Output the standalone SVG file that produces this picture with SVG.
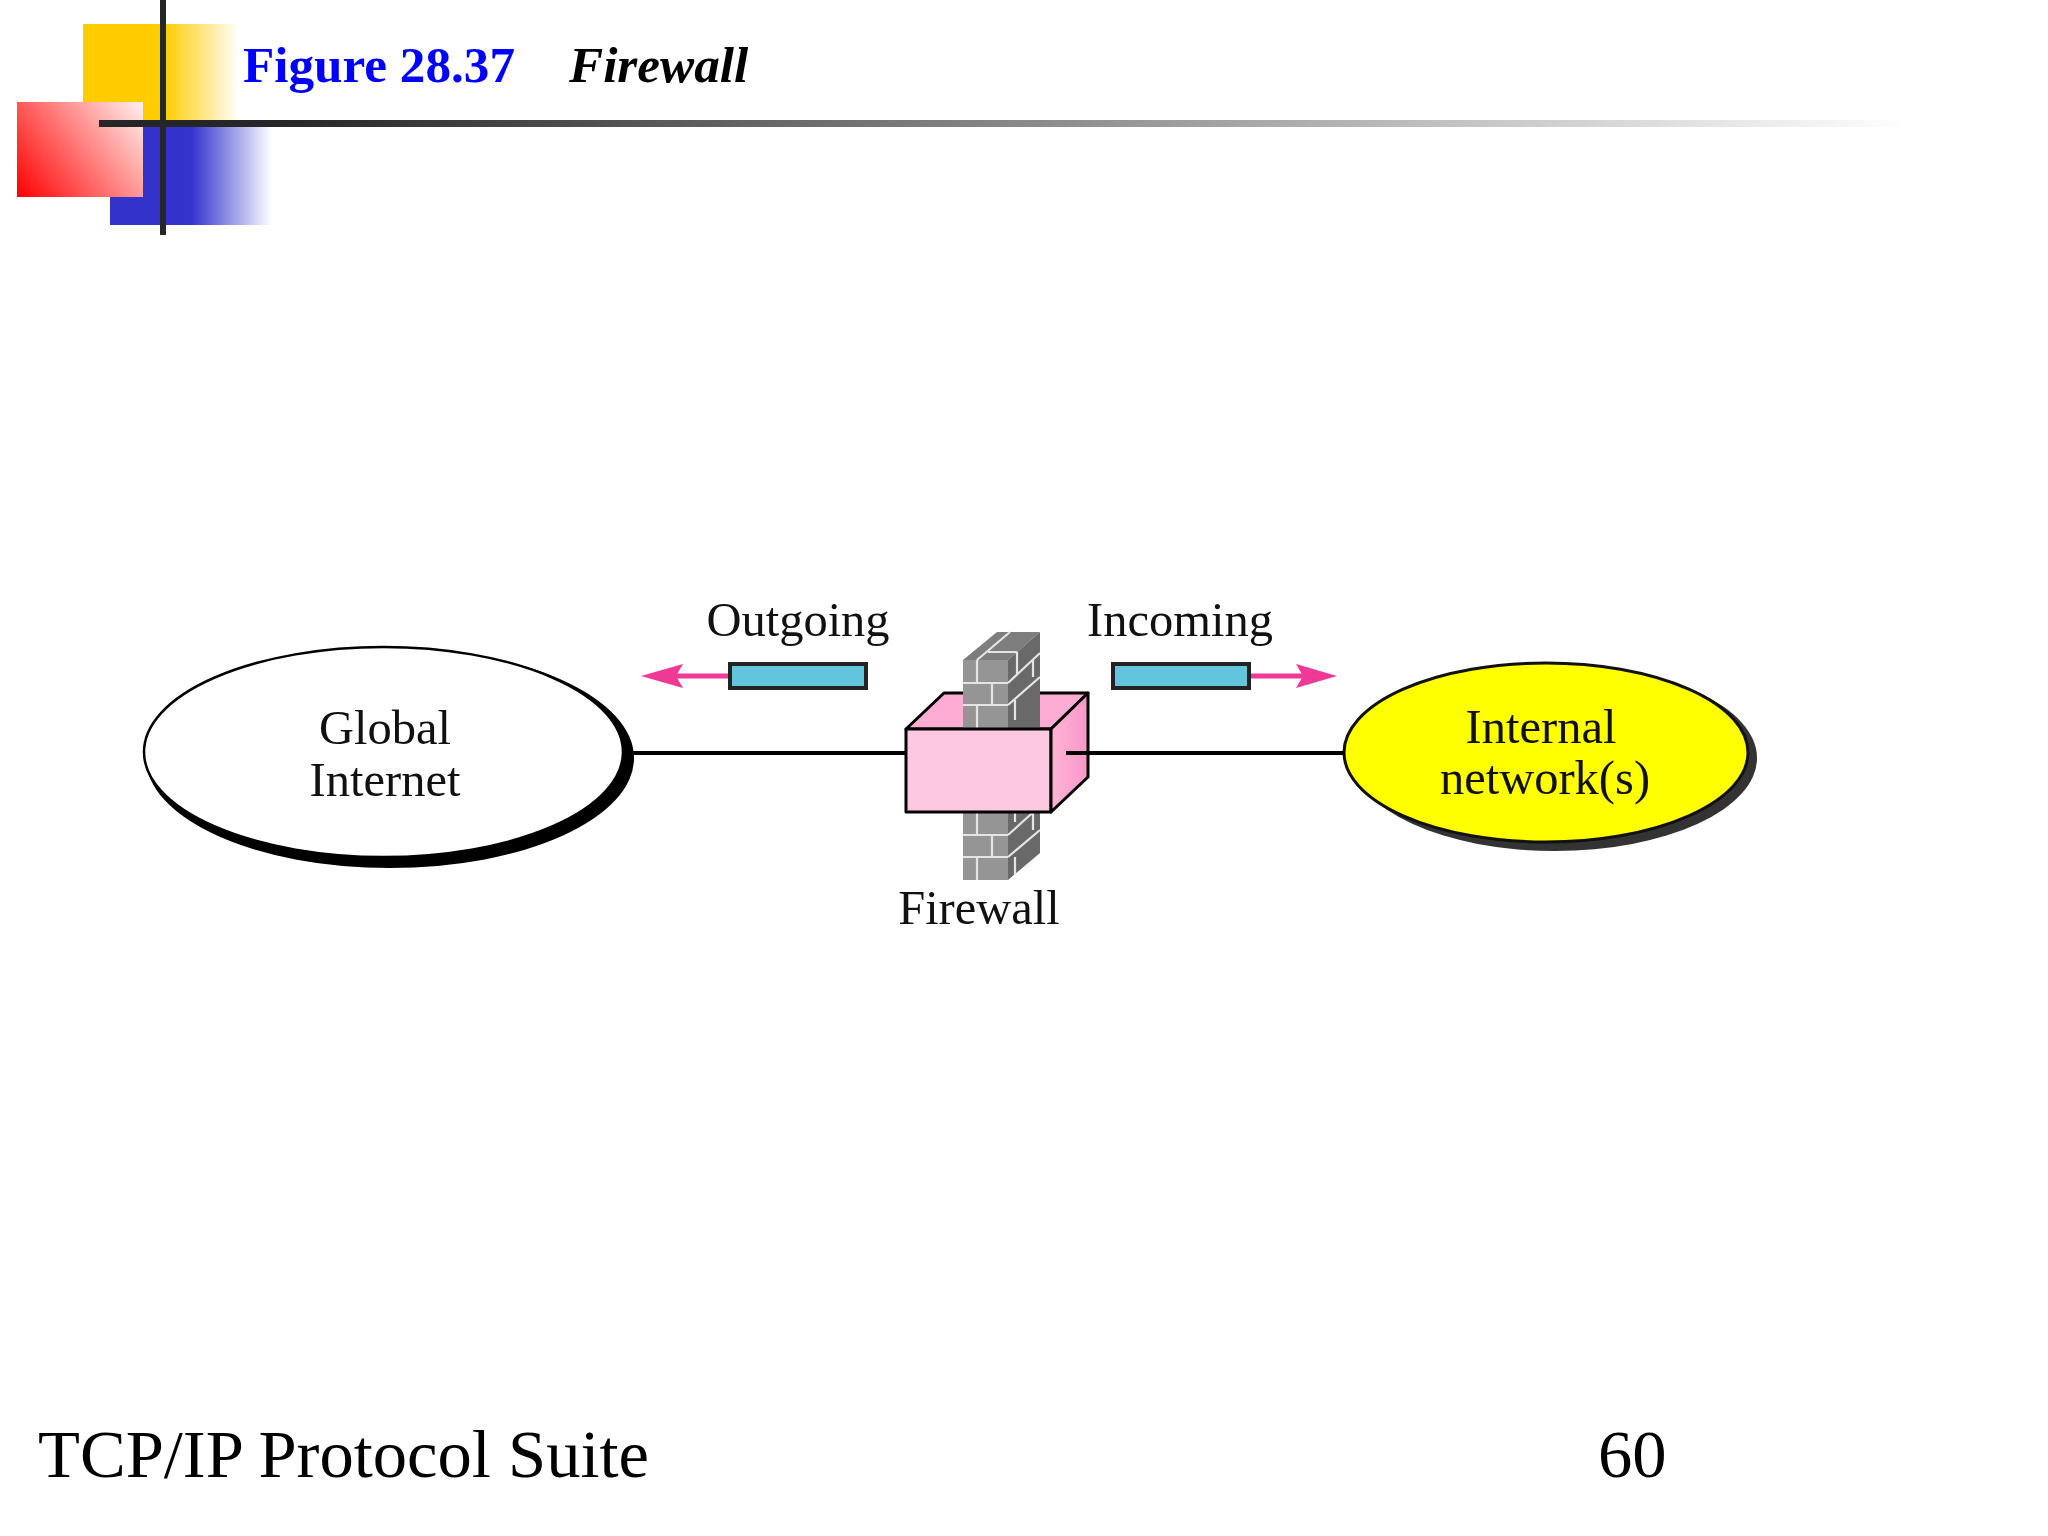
<svg xmlns="http://www.w3.org/2000/svg" width="2048" height="1536" viewBox="0 0 2048 1536">
<style>
text{font-family:"Liberation Serif","Times New Roman",serif;fill:#000}
.fig{font-size:48.500px;fill:#111}
.title{font-size:51.200px;font-weight:bold}
.foot{font-size:68.600px}
.wire{stroke:#000;stroke-width:4;fill:none}
.edge{stroke:#000;stroke-width:3;stroke-linejoin:round}
.mortar{stroke:#e4e4e4;stroke-width:2.200;fill:none}
.packet{fill:#62c5dd;stroke:#222;stroke-width:4}
.flow{stroke:#ee3a96;stroke-width:5;fill:none}
.head{fill:#ee3a96}
</style>
<defs>
<linearGradient id="gy" x1="83" x2="240" y1="0" y2="0" gradientUnits="userSpaceOnUse"><stop offset="0.52" stop-color="#ffcc00"/><stop offset="1" stop-color="#ffcc00" stop-opacity="0"/></linearGradient>
<linearGradient id="gb" x1="110" x2="272" y1="0" y2="0" gradientUnits="userSpaceOnUse"><stop offset="0.5" stop-color="#3333cc"/><stop offset="1" stop-color="#3333cc" stop-opacity="0"/></linearGradient>
<linearGradient id="gr" x1="17" y1="197" x2="143" y2="102" gradientUnits="userSpaceOnUse"><stop offset="0" stop-color="#ff0000"/><stop offset="1" stop-color="#fff2f0"/></linearGradient>
<linearGradient id="gl" x1="99" x2="1910" y1="0" y2="0" gradientUnits="userSpaceOnUse"><stop offset="0.1" stop-color="#262626"/><stop offset="1" stop-color="#262626" stop-opacity="0"/></linearGradient>
<linearGradient id="gs" x1="1051" x2="1088" y1="0" y2="0" gradientUnits="userSpaceOnUse"><stop offset="0" stop-color="#fdb4d6"/><stop offset="1" stop-color="#fb97c8"/></linearGradient>
</defs>
<rect width="2048" height="1536" fill="#fff"/>
<g id="decoration">
<rect x="83" y="24" width="157" height="98" fill="url(#gy)"/>
<rect x="110" y="125" width="162" height="100" fill="url(#gb)"/>
<rect x="17" y="102" width="126" height="95" fill="url(#gr)"/>
<rect x="99" y="120" width="1811" height="7" fill="url(#gl)"/>
<rect x="160" y="0" width="6" height="235" fill="#262626"/>
</g>
<g id="title">
<text class="title" x="243" y="82" style="fill:#0000ff">Figure 28.37</text>
<text class="title" x="569" y="82" font-style="italic">Firewall</text>
</g>
<g id="connectors">
<path class="wire" d="M632 753H906"/>
<path class="flow" d="M729 676H670"/>
<path class="head" d="M641 676L683 664L676 676L683 688Z"/>
<path class="flow" d="M1250 676H1310"/>
<path class="head" d="M1337 676L1296 664L1303 676L1296 688Z"/>
</g>
<g id="global-internet">
<ellipse cx="390" cy="758" rx="244" ry="110" fill="#000"/>
<ellipse cx="383.500" cy="752" rx="239.500" ry="105" fill="#fff" stroke="#000" stroke-width="2.500"/>
<text class="fig" x="385" y="744" text-anchor="middle">Global</text>
<text class="fig" x="385" y="796" text-anchor="middle">Internet</text>
</g>
<g id="internal-network">
<ellipse cx="1555" cy="758" rx="202" ry="93" fill="#333"/>
<ellipse cx="1546" cy="752.500" rx="202" ry="89.500" fill="#ffff00" stroke="#111" stroke-width="3"/>
<text class="fig" x="1541" y="743" text-anchor="middle">Internal</text>
<text class="fig" x="1545" y="794" text-anchor="middle">network(s)</text>
</g>
<g id="firewall">
<polygon class="edge" points="906,729 944,693 1088,693 1051,729" fill="#fdadd3"/>
<polygon points="963,660 997,632 1040,632 1008,660" fill="#7e7e7e"/>
<polygon points="1008,660 1040,632 1040,853 1008,880" fill="#696969"/>
<rect x="963" y="660" width="45" height="220" fill="#959595"/>
<path class="mortar" d="M977 660V682M963 683H1008M992 683V705M963 705H1008M977 705V729M977 812V834M963 835H1008M992 835V857M963 857H1008M977 857V880"/>
<path class="mortar" d="M1008 683L1040 653M1008 705L1040 677M1017 652V675M1033 660V677M1015 700V720M1008 835L1040 806M1008 857L1040 830M1015 857V875M1015 812V822M1033 812V830"/>
<path class="mortar" d="M977 660L1010 632M988 652H1017"/>
<rect class="edge" x="906" y="729" width="145" height="83" fill="#fdc8e2"/>
<polygon class="edge" points="1051,729 1088,693 1088,777 1051,812" fill="url(#gs)"/>
<path class="wire" d="M1066 753H1345"/>
<text class="fig" x="979" y="924" text-anchor="middle">Firewall</text>
</g>
<g id="outgoing">
<rect class="packet" x="730" y="664" width="136" height="24"/>
<text class="fig" x="798" y="636" text-anchor="middle">Outgoing</text>
</g>
<g id="incoming">
<rect class="packet" x="1113" y="664" width="136" height="24"/>
<text class="fig" x="1180" y="636" text-anchor="middle">Incoming</text>
</g>
<g id="footer">
<text class="foot" x="38" y="1477">TCP/IP Protocol Suite</text>
<text class="foot" x="1598" y="1477">60</text>
</g>
</svg>
